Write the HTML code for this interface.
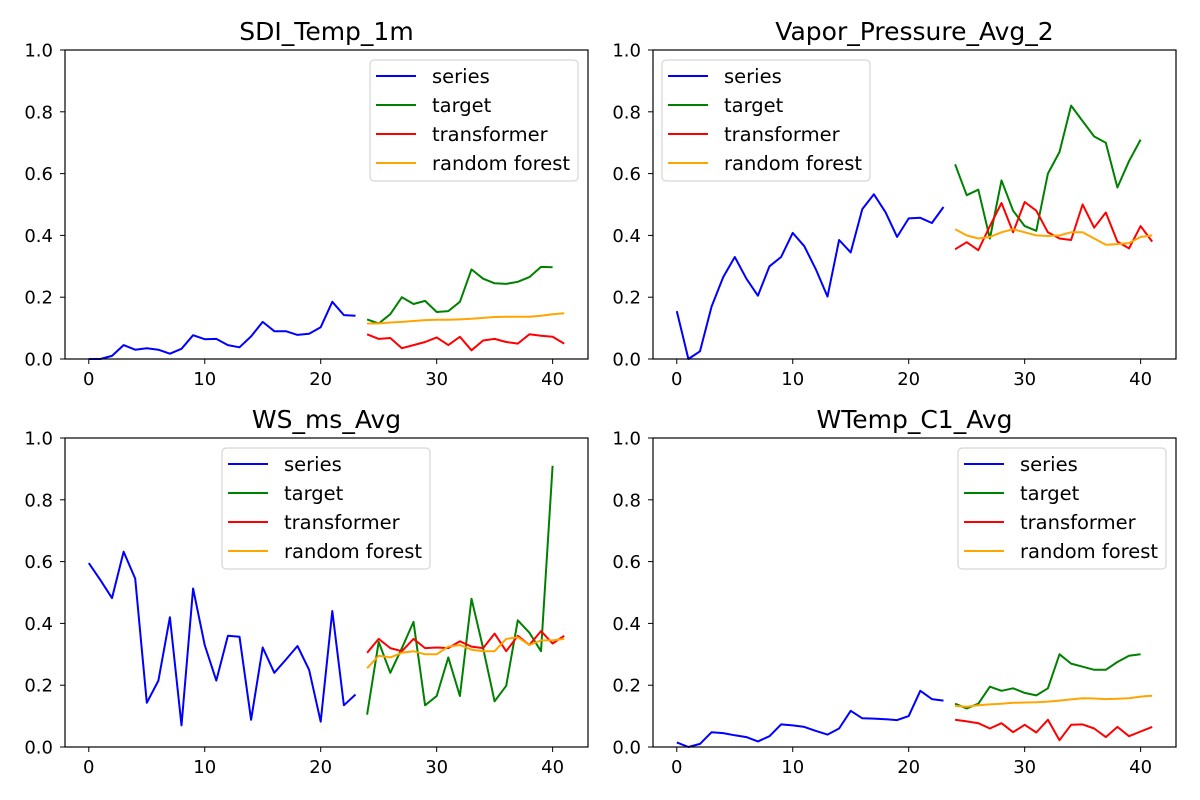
<!DOCTYPE html>
<html><head><meta charset="utf-8"><style>
body{margin:0;background:#fff}
svg{display:block}
text{font-family:"DejaVu Sans","Liberation Sans",sans-serif;fill:#000}
</style></head><body>
<svg id="c" width="1200" height="800"></svg>
<script>
const seriesX = Array.from({length:24},(_, i)=>i);
const predX = Array.from({length:18},(_, i)=>24+i);
const targetX = Array.from({length:17},(_, i)=>24+i);
const xTicks = [0,10,20,30,40];
const yTicks = [0.0,0.2,0.4,0.6,0.8,1.0];
const titles = ["SDI_Temp_1m","Vapor_Pressure_Avg_2","WS_ms_Avg","WTemp_C1_Avg"];
const legendLabels = ["series","target","transformer","random forest"];
const colors = ["#0000ff","#008000","#ff0000","#ffa500"];

const sdiSeries = [0,0,0.01,0.045,0.03,0.035,0.03,0.017,0.033,0.077,0.064,0.065,0.045,0.038,0.073,0.12,0.09,0.09,0.078,0.082,0.103,0.185,0.142,0.14];
const sdiTarget = [0.128,0.115,0.145,0.2,0.178,0.188,0.152,0.155,0.185,0.29,0.26,0.245,0.243,0.25,0.265,0.298,0.297];
const sdiTrans = [0.08,0.065,0.068,0.035,0.045,0.055,0.07,0.045,0.072,0.028,0.06,0.065,0.055,0.05,0.08,0.075,0.072,0.05];
const sdiRF = [0.115,0.115,0.118,0.12,0.123,0.126,0.127,0.127,0.128,0.13,0.133,0.136,0.137,0.137,0.137,0.14,0.145,0.148];

const vpSeries = [0.155,0,0.025,0.17,0.265,0.33,0.26,0.205,0.3,0.33,0.408,0.365,0.29,0.202,0.385,0.345,0.485,0.533,0.475,0.395,0.455,0.457,0.44,0.492];
const vpTarget = [0.63,0.53,0.548,0.39,0.578,0.48,0.43,0.415,0.6,0.67,0.82,0.77,0.72,0.7,0.555,0.64,0.71];
const vpTrans = [0.355,0.378,0.352,0.43,0.505,0.41,0.508,0.48,0.41,0.39,0.385,0.5,0.425,0.474,0.38,0.358,0.43,0.38];
const vpRF = [0.42,0.4,0.39,0.395,0.41,0.42,0.41,0.4,0.398,0.4,0.41,0.41,0.39,0.37,0.372,0.375,0.395,0.4];

const wsSeries = [0.595,0.54,0.482,0.632,0.545,0.143,0.215,0.42,0.07,0.513,0.33,0.215,0.36,0.357,0.088,0.322,0.24,0.283,0.327,0.25,0.082,0.44,0.135,0.17];
const wsTarget = [0.105,0.34,0.24,0.32,0.405,0.135,0.165,0.29,0.165,0.48,0.32,0.148,0.198,0.41,0.37,0.31,0.91];
const wsTrans = [0.305,0.35,0.32,0.31,0.35,0.32,0.322,0.32,0.342,0.325,0.32,0.367,0.31,0.36,0.33,0.375,0.335,0.36];
const wsRF = [0.255,0.295,0.29,0.305,0.31,0.3,0.3,0.325,0.33,0.315,0.31,0.31,0.35,0.355,0.33,0.345,0.345,0.35];

const wtSeries = [0.015,0,0.01,0.048,0.045,0.038,0.032,0.018,0.035,0.073,0.07,0.065,0.052,0.04,0.06,0.117,0.093,0.092,0.09,0.087,0.1,0.182,0.155,0.15];
const wtTarget = [0.14,0.125,0.14,0.195,0.182,0.19,0.175,0.167,0.19,0.3,0.27,0.26,0.25,0.25,0.275,0.295,0.3];
const wtTrans = [0.088,0.083,0.077,0.06,0.077,0.048,0.072,0.047,0.088,0.022,0.072,0.073,0.06,0.032,0.065,0.035,0.05,0.065];
const wtRF = [0.133,0.13,0.135,0.138,0.14,0.143,0.144,0.145,0.147,0.15,0.154,0.158,0.157,0.155,0.156,0.158,0.163,0.166];

const panels = [
  {data:[sdiSeries,sdiTarget,sdiTrans,sdiRF], x0:65, y0:50, leg:[370,60]},
  {data:[vpSeries,vpTarget,vpTrans,vpRF], x0:653, y0:50, leg:[662,60]},
  {data:[wsSeries,wsTarget,wsTrans,wsRF], x0:65, y0:438, leg:[222,448]},
  {data:[wtSeries,wtTarget,wtTrans,wtRF], x0:653, y0:438, leg:[958,448]}
];
const W=523, H=309, XMIN=-2.05, XMAX=43.05;
const NS="http://www.w3.org/2000/svg";
const svg=document.getElementById('c');
function mk(tag, attrs, parent){const e=document.createElementNS(NS,tag);for(const k in attrs)e.setAttribute(k,attrs[k]);(parent||svg).appendChild(e);return e;}

panels.forEach((p,pi)=>{
  const sx=v=>p.x0+(v-XMIN)/(XMAX-XMIN)*W;
  const sy=v=>p.y0+H-v*H;
  const g=mk('g',{});
  
  
  const t=mk('text',{x:p.x0+W/2,y:p.y0-10,'text-anchor':'middle','font-size':'25'},g);
  t.textContent=titles[pi];
  
  
  const xs=[seriesX,targetX,predX,predX];
  const names=['series-line','target-line','transformer-line','random-forest-line'];
  p.data.forEach((arr,si)=>{
    const pts=arr.map((v,i)=>sx(xs[si][i]).toFixed(1)+','+sy(v).toFixed(1)).join(' ');
    const pl=mk('polyline',{points:pts,fill:'none',stroke:colors[si],'stroke-width':'2','stroke-linejoin':'round'},g);
    
    
  });
  const fr=mk('rect',{x:p.x0,y:p.y0,width:W,height:H,fill:'none',stroke:'#000','stroke-width':'1.2'},g);
  
  
  xTicks.forEach(v=>{
    const X=sx(v);
    mk('line',{x1:X,x2:X,y1:p.y0+H,y2:p.y0+H+5,stroke:'#000','stroke-width':'1'},g);
    const tl=mk('text',{x:X,y:p.y0+H+26,'text-anchor':'middle','font-size':'18'},g);
    tl.textContent=v;
    
    
  });
  yTicks.forEach(v=>{
    const Y=sy(v);
    mk('line',{x1:p.x0-5,x2:p.x0,y1:Y,y2:Y,stroke:'#000','stroke-width':'1'},g);
    const tl=mk('text',{x:p.x0-12,y:Y+6.5,'text-anchor':'end','font-size':'18'},g);
    tl.textContent=v.toFixed(1);
    
    
  });
  const [lx,ly]=p.leg;
  const lg=mk('g',{},g);
  
  
  mk('rect',{x:lx,y:ly,width:208,height:121,rx:4,fill:'#fff','fill-opacity':'0.8',stroke:'#ccc'},lg);
  legendLabels.forEach((lab,i)=>{
    const Y=ly+16+i*29;
    mk('line',{x1:lx+6,x2:lx+46,y1:Y,y2:Y,stroke:colors[i],'stroke-width':'2'},lg);
    const tx=mk('text',{x:lx+62,y:Y+7,'font-size':'19.5'},lg);
    tx.textContent=lab;
    
    
  });
});
</script>
</body></html>
